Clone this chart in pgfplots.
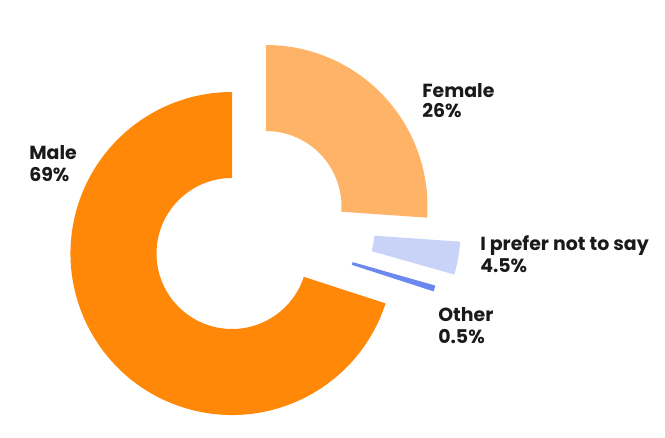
\documentclass[border=0pt]{standalone}
\usepackage{pgfplots}
\pgfplotsset{compat=1.18}
\usepackage{pgfplotstable}
\usepackage{fontspec}
\setmainfont{Poppins}
\definecolor{male}{HTML}{FF8808}
\definecolor{female}{HTML}{FFB366}
\definecolor{prefer}{HTML}{C9D3F8}
\definecolor{other}{HTML}{6B88EE}
\definecolor{txt}{HTML}{1A1A1A}

% drawn share of each slice (percent) and the explode offset (px)
\pgfplotstableread{
name value dx dy
Female 26.1 34 47
Prefer 3.3 67 23
Other 0.6 48 12
Male 70.0 0 0
}\slices

\begin{document}
\begin{tikzpicture}
\def\cx{232}\def\cy{183.5}
\def\Rp{121.125pt}\def\rp{56.625pt}\def\wp{64.5pt}
% angles
\pgfplotstablegetelem{0}{value}\of\slices \pgfmathsetmacro\sF{90}\pgfmathsetmacro\eF{90-3.6*\pgfplotsretval}
\pgfplotstablegetelem{1}{value}\of\slices \pgfmathsetmacro\sP{\eF}\pgfmathsetmacro\eP{\eF-3.6*\pgfplotsretval}
\pgfplotstablegetelem{2}{value}\of\slices \pgfmathsetmacro\sO{\eP}\pgfmathsetmacro\eO{\eP-3.6*\pgfplotsretval}
\pgfplotstablegetelem{3}{value}\of\slices \pgfmathsetmacro\sM{\eO}\pgfmathsetmacro\eM{\eO-3.6*\pgfplotsretval}
% centres
\pgfplotstablegetelem{0}{dx}\of\slices \pgfmathsetmacro\xF{\cx+\pgfplotsretval}
\pgfplotstablegetelem{0}{dy}\of\slices \pgfmathsetmacro\yF{\cy+\pgfplotsretval}
\pgfplotstablegetelem{1}{dx}\of\slices \pgfmathsetmacro\xP{\cx+\pgfplotsretval}
\pgfplotstablegetelem{1}{dy}\of\slices \pgfmathsetmacro\yP{\cy+\pgfplotsretval}
\pgfplotstablegetelem{2}{dx}\of\slices \pgfmathsetmacro\xO{\cx+\pgfplotsretval}
\pgfplotstablegetelem{2}{dy}\of\slices \pgfmathsetmacro\yO{\cy+\pgfplotsretval}
\pgfplotstablegetelem{3}{dx}\of\slices \pgfmathsetmacro\xM{\cx+\pgfplotsretval}
\pgfplotstablegetelem{3}{dy}\of\slices \pgfmathsetmacro\yM{\cy+\pgfplotsretval}
\begin{axis}[
  x=0.75pt, y=0.75pt,
  xmin=0, xmax=665, ymin=0, ymax=437,
  hide axis, clip=false,
]
\path (axis cs:0,0) rectangle (axis cs:665,437);
\fill[male] (axis cs:\xM,\yM) ++(\sM:\Rp) arc[start angle=\sM, end angle=\eM, radius=\Rp] -- ++(\eM+180:\wp) arc[start angle=\eM, end angle=\sM, radius=\rp] -- cycle;
\fill[female] (axis cs:\xF,\yF) ++(\sF:\Rp) arc[start angle=\sF, end angle=\eF, radius=\Rp] -- ++(\eF+180:\wp) arc[start angle=\eF, end angle=\sF, radius=\rp] -- cycle;
\fill[prefer] (axis cs:\xP,\yP) ++(\sP:\Rp) arc[start angle=\sP, end angle=\eP, radius=\Rp] -- ++(\eP+180:\wp) arc[start angle=\eP, end angle=\sP, radius=\rp] -- cycle;
\fill[other] (axis cs:\xO,\yO) ++(\sO:\Rp) arc[start angle=\sO, end angle=\eO, radius=\Rp] -- ++(\eO+180:\wp) arc[start angle=\eO, end angle=\sO, radius=\rp] -- cycle;

\begin{scope}[every node/.style={anchor=base west, inner sep=0pt, text=txt, font=\fontsize{14.2}{16}\selectfont\bfseries}]
\node at (axis cs:422,339.3) {Female};
\node at (axis cs:422,319.3) {26\%};
\node at (axis cs:29,278) {Male};
\node at (axis cs:29,255.3) {69\%};
\node at (axis cs:480,186.3) {I prefer not to say};
\node at (axis cs:480,164.3) {4.5\%};
\node at (axis cs:438,115.3) {Other};
\node at (axis cs:438,94) {0.5\%};
\end{scope}
\end{axis}
\end{tikzpicture}
\end{document}
